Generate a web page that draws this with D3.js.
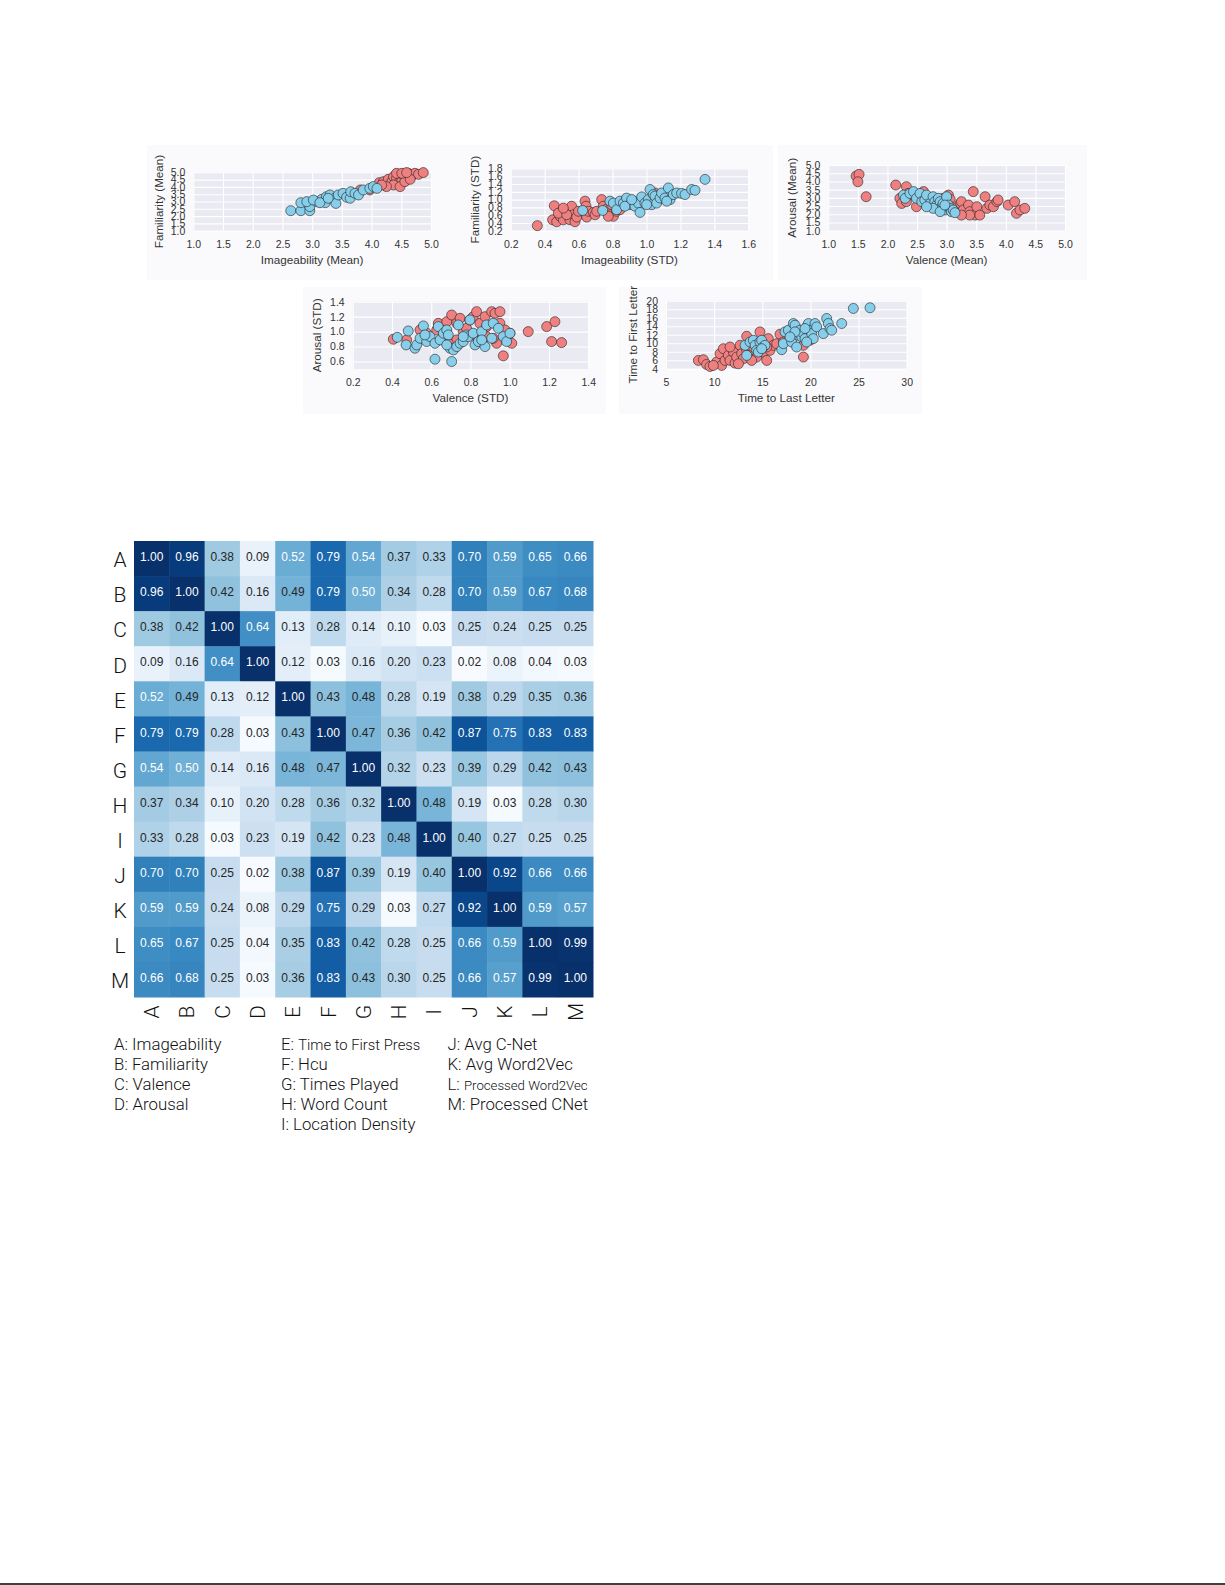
<!DOCTYPE html>
<html>
<head>
<meta charset="utf-8">
<script src="https://cdn.jsdelivr.net/npm/d3@7"></script>
<style>
html,body{margin:0;padding:0;background:#fff;}
svg{display:block;}
</style>
</head>
<body>
<svg id="chart" width="1225" height="1585"></svg>
<script>
// ---------------- DATA ----------------
// Panel 1: Imageability (Mean) vs Familiarity (Mean)
const p1Red = [[3.81,3.79],[3.97,3.79],[4.13,4.29],[4.20,4.36],[4.28,4.52],[4.34,4.36],[4.37,4.70],[4.42,4.59],[4.45,4.25],[4.51,4.47],[4.53,4.82],[4.59,4.66],[4.62,4.93],[4.67,4.75],[4.70,4.86],[4.73,4.93],[4.79,4.86],[4.87,4.98],[4.37,4.13],[4.25,4.02],[4.48,4.02],[4.56,4.36],[4.65,4.52],[4.17,4.13],[4.42,4.93],[4.51,4.93],[4.59,4.98]];
const p1Blue = [[2.64,2.37],[2.81,2.37],[2.81,2.92],[2.96,2.37],[2.96,2.65],[2.91,2.99],[3.08,2.99],[3.16,3.15],[3.22,2.92],[3.24,3.33],[3.30,3.45],[3.38,3.22],[3.40,2.87],[3.44,3.45],[3.52,3.56],[3.58,3.29],[3.64,3.22],[3.65,3.67],[3.72,3.56],[3.78,3.45],[3.86,3.79],[3.97,3.90],[4.03,4.02],[4.09,3.90],[3.02,3.10],[3.13,2.92],[3.27,3.22]];
// Panel 2: Imageability (STD) vs Familiarity (STD)
const p2Red = [[0.357,0.33],[0.457,0.84],[0.447,0.48],[0.471,0.43],[0.491,0.57],[0.500,0.70],[0.510,0.48],[0.549,0.48],[0.559,0.83],[0.569,0.61],[0.579,0.43],[0.589,0.55],[0.638,0.96],[0.644,0.83],[0.648,0.55],[0.657,0.70],[0.687,0.67],[0.697,0.61],[0.707,0.70],[0.736,1.00],[0.746,0.83],[0.766,0.76],[0.785,0.61],[0.805,0.57],[0.824,0.70],[0.844,0.74],[0.795,0.87],[0.599,0.70],[0.481,0.65],[0.530,0.61],[1.050,1.17],[1.080,1.13],[1.060,0.96],[0.510,0.78],[0.775,0.57]];
const p2Blue = [[0.624,0.72],[0.742,0.72],[0.785,0.96],[0.805,0.91],[0.824,0.74],[0.844,0.96],[0.864,0.91],[0.883,1.04],[0.903,0.87],[0.923,0.96],[0.932,0.83],[0.952,0.91],[0.962,0.67],[0.972,1.07],[0.991,0.91],[1.011,1.00],[1.021,1.26],[1.031,0.87],[1.040,1.13],[1.050,1.09],[1.060,0.91],[1.080,1.04],[1.089,1.17],[1.109,1.04],[1.129,1.30],[1.139,1.00],[1.158,1.13],[1.178,1.17],[1.207,1.16],[1.227,1.13],[1.266,1.26],[1.286,1.24],[1.345,1.52],[1.119,0.96],[1.001,0.87],[0.873,0.83],[0.913,1.00]];
// Panel 3: Valence (Mean) vs Arousal (Mean)
const p3Red = [[1.47,4.33],[1.52,4.43],[1.50,3.98],[1.64,3.07],[2.14,3.78],[2.32,3.68],[2.21,2.97],[2.24,2.66],[2.32,2.77],[2.35,3.27],[2.44,3.17],[2.61,3.38],[2.72,2.97],[2.83,2.87],[2.94,2.97],[3.03,3.17],[3.06,2.91],[3.17,2.26],[3.23,2.66],[3.25,2.77],[3.28,2.26],[3.37,2.56],[3.39,2.16],[3.45,3.38],[3.48,1.95],[3.51,2.46],[3.56,1.95],[3.65,3.07],[3.68,2.36],[3.73,2.56],[3.79,2.46],[3.85,2.77],[3.87,2.87],[4.04,2.56],[4.15,2.77],[4.18,2.06],[4.24,2.26],[4.32,2.36],[3.08,2.46],[2.94,2.46],[2.66,2.66],[2.49,2.46],[3.39,1.95],[3.25,1.95]];
const p3Blue = [[2.27,3.17],[2.30,2.97],[2.38,3.27],[2.44,3.38],[2.49,2.97],[2.55,3.27],[2.58,2.77],[2.63,2.87],[2.66,3.17],[2.72,2.66],[2.77,3.07],[2.80,2.77],[2.83,2.56],[2.86,2.97],[2.89,2.77],[2.92,2.46],[2.94,2.66],[2.97,2.26],[3.00,3.07],[3.03,2.56],[3.06,2.36],[3.08,2.16],[3.11,2.26],[3.14,2.10],[2.77,2.36],[2.66,2.46],[2.89,2.16],[2.97,2.56]];
// Panel 4: Valence (STD) vs Arousal (STD)
const p4Red = [[0.407,0.898],[0.475,0.889],[0.543,1.022],[0.577,0.978],[0.636,1.111],[0.662,1.067],[0.679,1.133],[0.704,1.222],[0.730,1.111],[0.747,1.178],[0.763,1.000],[0.780,1.044],[0.797,1.156],[0.814,1.200],[0.831,1.267],[0.848,1.111],[0.874,1.200],[0.882,1.067],[0.908,1.267],[0.925,1.244],[0.950,1.267],[0.933,0.844],[0.950,1.111],[0.967,0.676],[0.984,0.956],[1.001,0.978],[1.010,0.844],[1.094,1.000],[1.188,1.067],[1.230,1.133],[1.213,0.867],[1.264,0.853],[0.814,0.956],[0.857,0.978],[0.730,0.889],[0.687,0.844],[0.628,1.022],[0.916,0.911],[0.976,1.022],[0.882,0.933]];
const p4Blue = [[0.427,0.924],[0.472,0.822],[0.483,1.009],[0.517,0.778],[0.526,0.822],[0.543,0.911],[0.560,1.076],[0.577,0.867],[0.594,0.933],[0.619,0.844],[0.636,1.067],[0.645,0.889],[0.662,0.978],[0.679,1.022],[0.687,0.956],[0.696,0.778],[0.713,0.756],[0.730,0.800],[0.738,1.089],[0.747,0.844],[0.763,0.867],[0.780,0.956],[0.789,0.933],[0.797,1.156],[0.814,0.978],[0.823,0.822],[0.840,0.867],[0.857,1.000],[0.874,0.800],[0.882,1.089],[0.908,0.911],[0.916,1.111],[0.942,1.044],[0.967,0.933],[0.984,0.867],[1.001,0.978],[0.619,0.631],[0.704,0.600],[0.679,0.822],[0.568,0.956],[0.857,0.889],[0.763,0.933]];
// Panel 5: Time to Last Letter vs Time to First Letter
const p5Red = [[8.36,5.97],[8.88,6.13],[9.22,5.02],[9.57,4.55],[10.26,5.58],[10.61,7.55],[10.78,4.79],[10.96,8.73],[11.13,5.97],[11.48,7.15],[11.65,5.97],[12.00,7.94],[12.17,5.34],[12.34,6.76],[12.69,9.52],[12.86,7.55],[13.03,6.36],[13.38,11.64],[13.38,8.33],[13.73,7.15],[14.07,9.12],[14.42,6.76],[14.76,12.67],[14.94,9.91],[15.11,7.94],[15.46,5.97],[15.63,11.09],[15.80,8.33],[16.15,9.52],[16.50,9.91],[16.84,12.12],[17.19,10.30],[19.27,6.76],[19.96,10.70],[19.27,9.52],[11.65,9.12],[12.52,5.18],[14.59,8.33],[9.92,4.79],[13.90,5.97],[15.46,9.12]];
const p5Blue = [[13.38,7.15],[13.21,9.52],[13.73,10.30],[14.07,10.70],[14.25,9.52],[14.42,8.33],[14.59,7.94],[14.76,10.30],[14.94,10.70],[15.11,9.12],[15.28,9.52],[17.02,8.49],[17.19,9.91],[17.36,12.67],[17.71,13.06],[18.05,10.30],[18.23,14.64],[18.40,14.24],[18.57,9.12],[18.75,11.88],[18.92,13.06],[19.09,11.49],[19.27,12.27],[19.44,11.09],[19.61,13.85],[19.79,14.64],[19.96,13.06],[20.13,12.27],[20.30,11.09],[20.48,14.64],[20.65,13.85],[21.34,12.27],[21.69,15.82],[21.86,14.64],[22.04,13.46],[22.21,13.06],[23.25,14.64],[24.46,18.18],[26.19,18.34],[18.40,12.67],[19.44,13.46],[17.88,11.49],[19.61,10.30],[14.94,8.73]];

// Tick values
const p1XTicks = [1.0,1.5,2.0,2.5,3.0,3.5,4.0,4.5,5.0];
const p1YTicks = [1.0,1.5,2.0,2.5,3.0,3.5,4.0,4.5,5.0];
const p2XTicks = [0.2,0.4,0.6,0.8,1.0,1.2,1.4,1.6];
const p2YTicks = [0.2,0.4,0.6,0.8,1.0,1.2,1.4,1.6,1.8];
const p3XTicks = [1.0,1.5,2.0,2.5,3.0,3.5,4.0,4.5,5.0];
const p3YTicks = [1.0,1.5,2.0,2.5,3.0,3.5,4.0,4.5,5.0];
const p4XTicks = [0.2,0.4,0.6,0.8,1.0,1.2,1.4];
const p4YTicks = [0.6,0.8,1.0,1.2,1.4];
const p5XTicks = [5,10,15,20,25,30];
const p5YTicks = [4,6,8,10,12,14,16,18,20];

// Heatmap
const hmLabels = ["A","B","C","D","E","F","G","H","I","J","K","L","M"];
const hmValues = [
  [1.00,0.96,0.38,0.09,0.52,0.79,0.54,0.37,0.33,0.70,0.59,0.65,0.66],
  [0.96,1.00,0.42,0.16,0.49,0.79,0.50,0.34,0.28,0.70,0.59,0.67,0.68],
  [0.38,0.42,1.00,0.64,0.13,0.28,0.14,0.10,0.03,0.25,0.24,0.25,0.25],
  [0.09,0.16,0.64,1.00,0.12,0.03,0.16,0.20,0.23,0.02,0.08,0.04,0.03],
  [0.52,0.49,0.13,0.12,1.00,0.43,0.48,0.28,0.19,0.38,0.29,0.35,0.36],
  [0.79,0.79,0.28,0.03,0.43,1.00,0.47,0.36,0.42,0.87,0.75,0.83,0.83],
  [0.54,0.50,0.14,0.16,0.48,0.47,1.00,0.32,0.23,0.39,0.29,0.42,0.43],
  [0.37,0.34,0.10,0.20,0.28,0.36,0.32,1.00,0.48,0.19,0.03,0.28,0.30],
  [0.33,0.28,0.03,0.23,0.19,0.42,0.23,0.48,1.00,0.40,0.27,0.25,0.25],
  [0.70,0.70,0.25,0.02,0.38,0.87,0.39,0.19,0.40,1.00,0.92,0.66,0.66],
  [0.59,0.59,0.24,0.08,0.29,0.75,0.29,0.03,0.27,0.92,1.00,0.59,0.57],
  [0.65,0.67,0.25,0.04,0.35,0.83,0.42,0.28,0.25,0.66,0.59,1.00,0.99],
  [0.66,0.68,0.25,0.03,0.36,0.83,0.43,0.30,0.25,0.66,0.57,0.99,1.00]
];
// Legend columns: [letter, name]
const legendCol1 = [["A","Imageability"],["B","Familiarity"],["C","Valence"],["D","Arousal"]];
const legendCol2 = [["E","Time to First Press"],["F","Hcu"],["G","Times Played"],["H","Word Count"],["I","Location Density"]];
const legendCol3 = [["J","Avg C-Net"],["K","Avg Word2Vec"],["L","Processed Word2Vec"],["M","Processed CNet"]];

// ---------------- DRAW ----------------
const svg = d3.select("#chart");
const RED = "#f08080", BLUE = "#87ceeb";
const tickFont = "Liberation Sans, Arial, sans-serif";
const TXT = "#333";

const panels = [
  {bg:[147,145,318,135], x0:193.3,x1:431, y0:172.3,y1:230.7, xd:[1,5], yd:[1,5], xt:p1XTicks, yt:p1YTicks, fmt:d3.format(".1f"), xl:"Imageability (Mean)", yl:"Familiarity (Mean)", ylx:159, red:p1Red, blue:p1Blue},
  {bg:[463,145,310,135], x0:510.7,x1:748.3, y0:168.5,y1:230.7, xd:[0.2,1.6], yd:[0.2,1.8], xt:p2XTicks, yt:p2YTicks, fmt:d3.format(".1f"), xl:"Imageability (STD)", yl:"Familiarity (STD)", ylx:475, red:p2Red, blue:p2Blue},
  {bg:[778,145,309,135], x0:828.3,x1:1065, y0:165,y1:230.7, xd:[1,5], yd:[1,5], xt:p3XTicks, yt:p3YTicks, fmt:d3.format(".1f"), xl:"Valence (Mean)", yl:"Arousal (Mean)", ylx:791.5, red:p3Red, blue:p3Blue},
  {bg:[303,287,303,127], x0:352.7,x1:588.3, y0:301.7,y1:369, xd:[0.2,1.4], yd:[0.5,1.4], xt:p4XTicks, yt:p4YTicks, fmt:d3.format(".1f"), xl:"Valence (STD)", yl:"Arousal (STD)", ylx:316.5, red:p4Red, blue:p4Blue},
  {bg:[619,287,303,127], x0:666,x1:906.7, y0:300.7,y1:368.8, xd:[5,30], yd:[4,20], xt:p5XTicks, yt:p5YTicks, fmt:d3.format("d"), xl:"Time to Last Letter", yl:"Time to First Letter", ylx:632.5, red:p5Red, blue:p5Blue}
];

panels.forEach(p => {
  const g = svg.append("g");
  g.append("rect").attr("x",p.bg[0]).attr("y",p.bg[1]).attr("width",p.bg[2]).attr("height",p.bg[3]).attr("fill","#fafafc");
  const x = d3.scaleLinear().domain(p.xd).range([p.x0,p.x1]);
  const y = d3.scaleLinear().domain(p.yd).range([p.y1,p.y0]);
  g.append("rect").attr("x",p.x0).attr("y",p.y0).attr("width",p.x1-p.x0).attr("height",p.y1-p.y0).attr("fill","#eaeaf2");
  const gx = g.append("g").attr("transform",`translate(0,${p.y1})`)
    .call(d3.axisBottom(x).tickValues(p.xt).tickFormat(p.fmt).tickSize(-(p.y1-p.y0)).tickPadding(10));
  const gy = g.append("g").attr("transform",`translate(${p.x0},0)`)
    .call(d3.axisLeft(y).tickValues(p.yt).tickFormat(p.fmt).tickSize(-(p.x1-p.x0)).tickPadding(8));
  [gx,gy].forEach(a => {
    a.select(".domain").remove();
    a.selectAll(".tick line").attr("stroke","#fff").attr("stroke-width",1.1);
    a.selectAll(".tick text").attr("fill",TXT).style("font-family",tickFont).style("font-size","10.5px");
  });
  gx.selectAll(".tick text").attr("dy","0.71em");
  const dots = g.append("g");
  dots.selectAll("circle.r").data(p.red).join("circle").attr("class","r")
    .attr("cx",d=>x(d[0])).attr("cy",d=>y(d[1])).attr("r",5)
    .attr("fill",RED).attr("stroke","#222").attr("stroke-width",0.6);
  dots.selectAll("circle.b").data(p.blue).join("circle").attr("class","b")
    .attr("cx",d=>x(d[0])).attr("cy",d=>y(d[1])).attr("r",5)
    .attr("fill",BLUE).attr("stroke","#222").attr("stroke-width",0.6);
  g.append("text").attr("x",(p.x0+p.x1)/2).attr("y",p.y1+33).attr("text-anchor","middle")
    .attr("fill",TXT).style("font-family",tickFont).style("font-size","11.7px").text(p.xl);
  g.append("text").attr("transform",`translate(${p.ylx},${(p.y0+p.y1)/2}) rotate(-90)`)
    .attr("text-anchor","middle").attr("dy","0.35em")
    .attr("fill",TXT).style("font-family",tickFont).style("font-size","11.7px").text(p.yl);
});

// Heatmap
const hmX = d3.scaleBand().domain(hmLabels).range([134,593]);
const hmY = d3.scaleBand().domain(hmLabels).range([541,997]);
const flat = [];
hmValues.forEach((row,i) => row.forEach((v,j) => flat.push({r:hmLabels[i], c:hmLabels[j], v})));
const vmin = d3.min(flat,d=>d.v), vmax = d3.max(flat,d=>d.v);
const color = d3.scaleSequential(d3.interpolateBlues).domain([vmin,vmax]);
const hm = svg.append("g");
hm.selectAll("rect").data(flat).join("rect")
  .attr("x",d=>hmX(d.c)).attr("y",d=>hmY(d.r))
  .attr("width",hmX.bandwidth()+0.5).attr("height",hmY.bandwidth()+0.5)
  .attr("fill",d=>color(d.v));
hm.selectAll("text").data(flat).join("text")
  .attr("x",d=>hmX(d.c)+hmX.bandwidth()/2).attr("y",d=>hmY(d.r)+hmY.bandwidth()/2)
  .attr("text-anchor","middle").attr("dy","0.22em")
  .style("font-family",tickFont).style("font-size","12px")
  .attr("fill",d=> d.v >= 0.495 ? "#fff" : "#262626")
  .text(d=>d3.format(".2f")(d.v));

const lightFont = "Roboto, 'Liberation Sans', sans-serif";
const rowAx = svg.append("g").attr("transform","translate(134,2)")
  .call(d3.axisLeft(hmY).tickSize(0).tickPadding(9));
rowAx.select(".domain").remove();
rowAx.selectAll(".tick text").style("font-family",lightFont).style("font-weight",300)
  .style("font-size","21px").attr("fill","#111").attr("text-anchor","middle").attr("x",-14);
const colAx = svg.append("g").attr("transform","translate(0,997)")
  .call(d3.axisBottom(hmX).tickSize(0));
colAx.select(".domain").remove();
colAx.selectAll(".tick text").style("font-family",lightFont).style("font-weight",300)
  .style("font-size","21px").attr("fill","#111")
  .attr("transform","translate(0,15) rotate(-90)").attr("y",0).attr("dy","0.35em").attr("text-anchor","middle");

// Legend
const smallSize = {"Time to First Press":14.8, "Processed Word2Vec":13.2};
function legendCol(items, x0) {
  const g = svg.append("g");
  items.forEach((it,i) => {
    const t = g.append("text").attr("x",x0).attr("y",1050+i*19.9)
      .style("font-family",lightFont).style("font-weight",300).style("font-size","16.8px").attr("fill","#111");
    t.append("tspan").text(it[0]+": ");
    t.append("tspan").style("font-size",(smallSize[it[1]]||16.8)+"px").text(it[1]);
  });
}
legendCol(legendCol1,114);
legendCol(legendCol2,281);
legendCol(legendCol3,447.5);

// bottom rule
svg.append("line").attr("x1",0).attr("x2",1225).attr("y1",1584).attr("y2",1584).attr("stroke","#000").attr("stroke-width",1.6);
</script>
</body>
</html>
